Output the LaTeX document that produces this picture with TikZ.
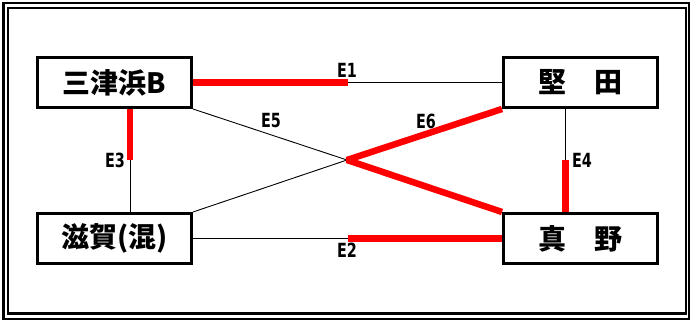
\documentclass[tikz,border=0pt]{standalone}
\usepackage{fontspec}
\usepackage{tikz}
\usetikzlibrary{calc}
\newfontfamily\cjk{Noto Sans CJK JP}
\newfontfamily\labfont[FakeStretch=0.82]{DejaVu Sans Condensed}

\begin{document}
\begin{tikzpicture}[x=1pt, y=-1pt,
  station/.style={draw, line width=3pt, minimum width=154pt, minimum height=50pt,
    inner sep=0pt, font=\cjk\bfseries\fontsize{28}{28}\selectfont},
  thinedge/.style={line width=0.9pt},
  hotedge/.style={red, line width=6.5pt},
  elabel/.style={inner sep=0pt, font=\labfont\bfseries\fontsize{19.5}{19.5}\selectfont}]
\useasboundingbox (0, 0) rectangle (690, 320);

% Double frame.
\draw[line width=2.5pt] (3.3, 2.8) rectangle (689, 319);
\draw[line width=2.5pt] (7.8, 7.8) rectangle (686, 313.5);

\node[station] (mitsuhama) at (114.5, 82.5) {三津浜B};
\node[station] (katata) at (580.5, 82.5) {堅　田};
\node[station] (shiga) at (114.5, 238.5) {滋賀(混)};
\node[station] (mano) at (580.5, 238.5) {真　野};

\coordinate (cross) at (347, 160);
\coordinate (e3x) at (130, 0);
\coordinate (e4x) at (565.5, 0);
\coordinate (mid1) at ($(mitsuhama.east)!0.5!(katata.west)$);
\coordinate (mid2) at ($(shiga.east)!0.5!(mano.west)$);

% Draw thin edges.
\draw[thinedge] (mitsuhama.south east) -- (cross) -- (shiga.north east);
\draw[thinedge] (mid1) -- (katata.west);
\draw[thinedge] (shiga.east) -- (mid2);
\draw[thinedge] (cross -| e3x) -- (shiga.north -| e3x);
\draw[thinedge] (katata.south -| e4x) -- (cross -| e4x);

% Draw loaded edges.
\draw[hotedge] (mitsuhama.east) -- (mid1);
\draw[hotedge] (mid2) -- (mano.west);
\draw[hotedge] (mitsuhama.south -| e3x) -- (cross -| e3x);
\draw[hotedge] (cross -| e4x) -- (mano.north -| e4x);
\draw[hotedge, line join=bevel] (katata.south west) -- (cross) -- (mano.north west);

\node[elabel] (l1) at (347, 70) {E1};
\node[elabel] (l2) at (347, 250) {E2};
\node[elabel] (l3) at (115, 160) {E3};
\node[elabel] (l4) at (582, 160) {E4};
\node[elabel] (l5) at (271, 121) {E5};
\node[elabel] (l6) at (426, 121) {E6};

\end{tikzpicture}
\end{document}
